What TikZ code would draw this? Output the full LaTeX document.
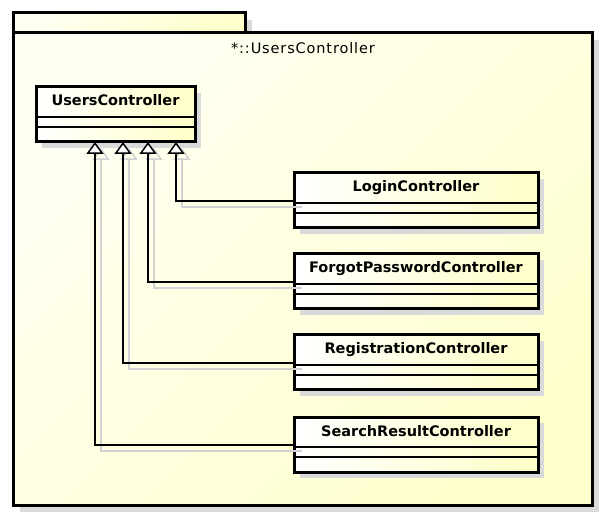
\documentclass[tikz,border=0pt]{standalone}
\usepackage{fontspec}
\setmainfont{DejaVu Sans}
\newfontfamily\pkgfont[LetterSpace=6]{DejaVu Sans}
\usetikzlibrary{arrows.meta,calc,shadows}
\definecolor{pkgA}{RGB}{255,255,242}
\definecolor{pkgB}{RGB}{255,255,206}
\definecolor{clsB}{RGB}{255,255,200}
\definecolor{shad}{RGB}{218,218,218}
\definecolor{lshad}{RGB}{210,210,210}
\begin{document}
\begin{tikzpicture}[x=1pt,y=-1pt,
  pkgbox/.style={draw=black,line width=3pt,top color=pkgA,bottom color=pkgB,shading angle=45,
    anchor=north west,inner sep=0pt,outer sep=0pt},
  clsbox/.style={draw=black,line width=3pt,left color=white,right color=clsB,
    minimum width=244pt,minimum height=55pt,anchor=north west,inner sep=0pt,outer sep=0pt,
    drop shadow={shadow xshift=6pt,shadow yshift=-6pt,opacity=1,fill=shad}},
  clsname/.style={font=\fontsize{14.5}{16}\selectfont\bfseries,inner sep=0pt,anchor=base},
  sepline/.style={draw=black,line width=1.3pt},
  gen/.style={draw=black,line width=1.5pt,-{Triangle[length=12pt,width=17pt,fill=white]}},
  genshadow/.style={draw=lshad,line width=1.5pt,-{Triangle[length=12pt,width=17pt,open]}}
]
\useasboundingbox[fill=white] (0,0) rectangle (605,518);
% package shadows
\fill[shad] (20,20) rectangle (252,40);
\fill[shad] (20,40) rectangle (599,512);
% package
\node[pkgbox,minimum width=232pt,minimum height=20pt] (pkgtab) at (13,13) {};
\node[pkgbox,minimum width=579pt,minimum height=472pt] (pkg) at (13,33) {};
\node[font=\pkgfont\fontsize{14.5}{16}\selectfont,inner sep=0pt,anchor=base] (pkgname) at (303,54) {*::UsersController};
% classes
\node[clsbox,minimum width=159pt] (users) at (36,87) {};
\node[clsbox] (login) at (294,173) {};
\node[clsbox] (forgot) at (294,254) {};
\node[clsbox] (reg) at (294,335) {};
\node[clsbox] (search) at (294,417) {};
\foreach \c in {users,login,forgot,reg,search}{
  \draw[sepline] ($(\c.north west)+(0,30)$) -- ($(\c.north east)+(0,30)$);
  \draw[sepline] ($(\c.north west)+(0,40)$) -- ($(\c.north east)+(0,40)$);
}
\node[clsname] (usersname) at ($(users.north)+(0,19)$) {UsersController};
\node[clsname] (loginname) at ($(login.north)+(0,19)$) {LoginController};
\node[clsname] (forgotname) at ($(forgot.north)+(0,19)$) {ForgotPasswordController};
\node[clsname] (regname) at ($(reg.north)+(0,19)$) {RegistrationController};
\node[clsname] (searchname) at ($(search.north)+(0,19)$) {SearchResultController};
% connector shadows
\draw[genshadow] ($(login.north west)+(8,34)$) -| ($(users.south west)+(146,6)$);
\draw[genshadow] ($(forgot.north west)+(8,34)$) -| ($(users.south west)+(118,6)$);
\draw[genshadow] ($(reg.north west)+(8,34)$) -| ($(users.south west)+(93,6)$);
\draw[genshadow] ($(search.north west)+(8,34)$) -| ($(users.south west)+(65,6)$);
% connectors
\draw[gen] ($(login.north west)+(0,28)$) -| ($(users.south west)+(140,0)$);
\draw[gen] ($(forgot.north west)+(0,28)$) -| ($(users.south west)+(112,0)$);
\draw[gen] ($(reg.north west)+(0,28)$) -| ($(users.south west)+(87,0)$);
\draw[gen] ($(search.north west)+(0,28)$) -| ($(users.south west)+(59,0)$);
\end{tikzpicture}
\end{document}
